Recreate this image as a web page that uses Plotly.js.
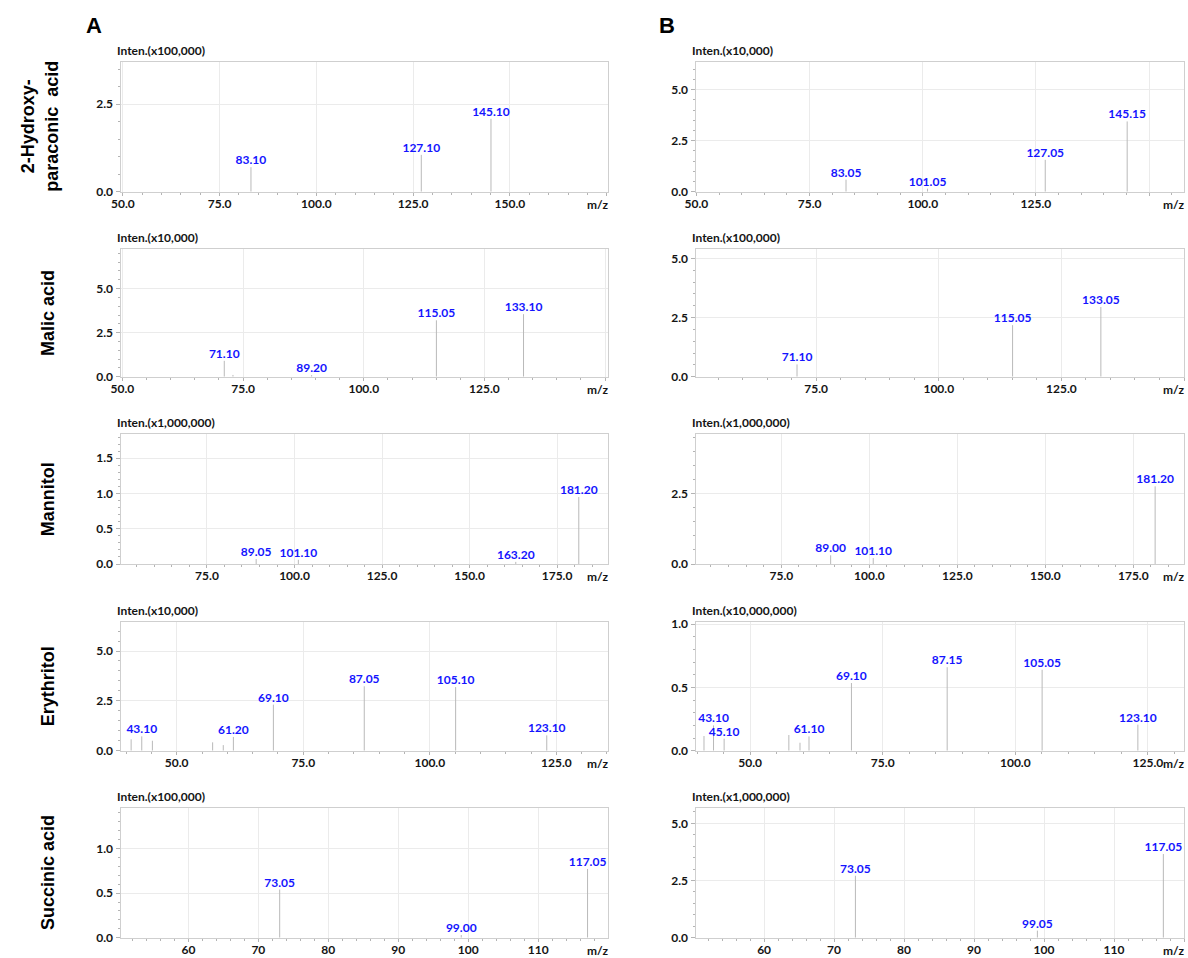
<!DOCTYPE html>
<html><head><meta charset="utf-8">
<script src="https://cdn.plot.ly/plotly-3.0.1.min.js"></script>
<style>html,body{margin:0;padding:0;background:#fff}#chart{width:1188px;height:958px}</style>
</head><body><div id="chart"></div>
<script>
// ---------- text ----------
const compounds = ['2-Hydroxy-<br>paraconic  acid', 'Malic acid', 'Mannitol', 'Erythritol', 'Succinic acid'];
const scaleA = ['Inten.(x100,000)', 'Inten.(x10,000)', 'Inten.(x1,000,000)', 'Inten.(x10,000)', 'Inten.(x100,000)'];
const scaleB = ['Inten.(x10,000)', 'Inten.(x100,000)', 'Inten.(x1,000,000)', 'Inten.(x10,000,000)', 'Inten.(x1,000,000)'];
const columnLetters = ['A', 'B'];

// ---------- peaks (m/z, relative intensity in the panel's unit, label) ----------
const hydA_mz  = [83.10, 127.10, 145.10];
const hydA_int = [0.70, 1.05, 2.08];
const hydA_lab = ['83.10', '127.10', '145.10'];

const hydB_mz  = [83.05, 101.05, 127.05, 145.15];
const hydB_int = [0.59, 0.15, 1.56, 3.44];
const hydB_lab = ['83.05', '101.05', '127.05', '145.15'];

const malA_mz  = [71.10, 72.9, 89.20, 115.05, 133.10];
const malA_int = [0.90, 0.10, 0.09, 3.20, 3.55];
const malA_lab = ['71.10', '', '89.20', '115.05', '133.10'];

const malB_mz  = [71.10, 115.05, 133.05];
const malB_int = [0.52, 2.18, 2.95];
const malB_lab = ['71.10', '115.05', '133.05'];

const manA_mz  = [89.05, 101.10, 163.20, 181.20];
const manA_int = [0.07, 0.06, 0.03, 0.95];
const manA_lab = ['89.05', '101.10', '163.20', '181.20'];

const manB_mz  = [89.00, 101.10, 181.20];
const manB_int = [0.31, 0.21, 2.76];
const manB_lab = ['89.00', '101.10', '181.20'];

const eryA_mz  = [41.0, 43.10, 45.2, 57.1, 59.2, 61.20, 69.10, 87.05, 105.10, 123.10];
const eryA_int = [0.57, 0.72, 0.50, 0.42, 0.28, 0.69, 2.31, 3.23, 3.19, 0.77];
const eryA_lab = ['', '43.10', '', '', '', '61.20', '69.10', '87.05', '105.10', '123.10'];

const eryB_mz  = [41.3, 43.10, 45.10, 57.3, 59.4, 61.10, 69.10, 87.15, 105.05, 123.10];
const eryB_int = [0.116, 0.20, 0.095, 0.124, 0.063, 0.113, 0.535, 0.66, 0.64, 0.206];
const eryB_lab = ['', '43.10', '45.10', '', '', '61.10', '69.10', '87.15', '105.05', '123.10'];

const sucA_mz  = [73.05, 99.00, 117.05];
const sucA_int = [0.54, 0.03, 0.77];
const sucA_lab = ['73.05', '99.00', '117.05'];

const sucB_mz  = [73.05, 99.05, 117.05];
const sucB_int = [2.71, 0.31, 3.66];
const sucB_lab = ['73.05', '99.05', '117.05'];

// ---------- x tick values ----------
const xt25a = [50, 75, 100, 125, 150, 175];
const xt25b = [50, 75, 100, 125, 150];
const xt25c = [75, 100, 125, 150, 175];
const xt25d = [50, 75, 100, 125];
const xt10  = [60, 70, 80, 90, 100, 110, 120];

// ---------- layout geometry (pixels) ----------
const W = 1188, H = 958;
const colL = [120.5, 695.5], colR = [607.5, 1184];
const rowT = [62, 249.3, 434.3, 621.7, 808.3], rowB = [191.7, 376.7, 564, 750.7, 937.7];

const panels = [
  {r:0,c:0,mz:hydA_mz,it:hydA_int,lab:hydA_lab,xr:[49.4,175.2],yr:[0,3.7],xt:xt25a,hide:175,ym:2.5,xm:5,d:1},
  {r:0,c:1,mz:hydB_mz,it:hydB_int,lab:hydB_lab,xr:[49.8,157.7],yr:[0,6.35],xt:xt25b,hide:150,ym:2.5,xm:5,d:1},
  {r:1,c:0,mz:malA_mz,it:malA_int,lab:malA_lab,xr:[49.6,150.5],yr:[0,7.23],xt:xt25b,hide:150,ym:2.5,xm:5,d:1},
  {r:1,c:1,mz:malB_mz,it:malB_int,lab:malB_lab,xr:[50.4,150.0],yr:[0,5.39],xt:xt25b,hide:150,ym:2.5,xm:5,d:1},
  {r:2,c:0,mz:manA_mz,it:manA_int,lab:manA_lab,xr:[50.3,189.4],yr:[0,1.84],xt:xt25c,hide:null,ym:0.5,xm:5,d:1},
  {r:2,c:1,mz:manB_mz,it:manB_int,lab:manB_lab,xr:[50.6,189.4],yr:[0,4.61],xt:xt25c,hide:null,ym:2.5,xm:5,d:1},
  {r:3,c:0,mz:eryA_mz,it:eryA_int,lab:eryA_lab,xr:[38.9,135.1],yr:[0,6.47],xt:xt25d,hide:null,ym:2.5,xm:5,d:1},
  {r:3,c:1,mz:eryB_mz,it:eryB_int,lab:eryB_lab,xr:[39.7,131.8],yr:[0,1.02],xt:xt25d,hide:null,ym:0.5,xm:5,d:1},
  {r:4,c:0,mz:sucA_mz,it:sucA_int,lab:sucA_lab,xr:[50.3,119.9],yr:[0,1.45],xt:xt10,hide:120,ym:0.5,xm:2,d:0},
  {r:4,c:1,mz:sucB_mz,it:sucB_int,lab:sucB_lab,xr:[50.2,120.0],yr:[0,5.66],xt:xt10,hide:120,ym:2.5,xm:2,d:0}
];

const TICKFONT = {family:'Lato, Open Sans, sans-serif', size:12, color:'#141414', weight:'bold'};
const LABFONT = {family:'Lato, Open Sans, sans-serif', size:12, color:'#1414ff', weight:'bold'};
const FRAME = '#cfcfcf', GRID = '#ebebeb', TICKC = '#b4b4b4', PEAK = '#b9b9b9';

const px = v => v / W, py = v => 1 - v / H;
const traces = [], layout = {
  width: W, height: H, margin:{l:0,r:0,t:0,b:0}, showlegend:false,
  paper_bgcolor:'#fff', plot_bgcolor:'#fff', annotations:[]
};

panels.forEach((p, i) => {
  const n = i + 1, xa = 'x' + (n === 1 ? '' : n), ya = 'y' + (n === 1 ? '' : n);
  const lx = [], ly = [];
  p.mz.forEach((m, k) => { lx.push(m, m, null); ly.push(0, p.it[k], null); });
  traces.push({type:'scatter', mode:'lines', x:lx, y:ly, xaxis:xa, yaxis:ya,
    line:{color:PEAK, width:1}, hoverinfo:'skip'});
  traces.push({type:'scatter', mode:'text', x:p.mz, y:p.it, text:p.lab, xaxis:xa, yaxis:ya,
    textposition:'top center', textfont:LABFONT, hoverinfo:'skip', cliponaxis:false});

  const xdom = [px(colL[p.c]), px(colR[p.c])];
  const ydom = [py(rowB[p.r]), py(rowT[p.r])];
  layout['xaxis' + (n === 1 ? '' : n)] = {
    domain:xdom, range:p.xr, anchor:ya, tickmode:'array', tickvals:p.xt,
    ticktext:p.xt.map(v => v === p.hide ? '' : v.toFixed(p.d)),
    showgrid:true, gridcolor:GRID, gridwidth:1, zeroline:false,
    showline:true, linecolor:FRAME, linewidth:1, mirror:true,
    ticks:'outside', ticklen:3, tickcolor:TICKC, tickfont:TICKFONT, ticklabelstandoff:-2,
    minor:{tickmode:'linear', tick0:0, dtick:p.xm, ticks:'outside', ticklen:2, tickcolor:TICKC, showgrid:false},
    fixedrange:true
  };
  layout['yaxis' + (n === 1 ? '' : n)] = {
    domain:ydom, range:p.yr, anchor:xa, tickmode:'linear', tick0:0, dtick:p.ym, tickformat:'.1f',
    showgrid:true, gridcolor:GRID, gridwidth:1, zeroline:false,
    showline:true, linecolor:FRAME, linewidth:1, mirror:true,
    ticks:'outside', ticklen:4, tickcolor:TICKC, tickfont:TICKFONT,
    minor:{tickmode:'linear', tick0:0, dtick:p.ym / 5, ticks:'outside', ticklen:2, tickcolor:TICKC, showgrid:false},
    fixedrange:true
  };
  layout.annotations.push({xref:'paper', yref:'paper', x:px(colL[p.c] - 6), y:py(rowT[p.r] - 2),
    xanchor:'left', yanchor:'bottom', showarrow:false,
    text:(p.c === 0 ? scaleA : scaleB)[p.r], font:{family:'Lato, sans-serif', size:12, color:'#141414', weight:'bold'}});
  layout.annotations.push({xref:'paper', yref:'paper', x:px(colR[p.c] + 2), y:py(rowB[p.r] + 12.5),
    xanchor:'right', yanchor:'middle', showarrow:false, text:'m/z', font:TICKFONT});
});

compounds.forEach((t, r) => {
  layout.annotations.push({xref:'paper', yref:'paper', x:px(r === 0 ? 40 : 48),
    y:py((rowT[r] + rowB[r]) / 2), xanchor:'center', yanchor:'middle', textangle:-90, showarrow:false,
    text:t, font:{family:'Liberation Sans, Arial, sans-serif', size:18, color:'#000', weight:'bold'}});
});
[93.5, 667].forEach((x, c) => {
  layout.annotations.push({xref:'paper', yref:'paper', x:px(x), y:py(25.5), xanchor:'center', yanchor:'middle',
    showarrow:false, text:columnLetters[c], font:{family:'Liberation Sans, Arial, sans-serif', size:22, color:'#000', weight:'bold'}});
});

Plotly.newPlot('chart', traces, layout, {staticPlot:true, displayModeBar:false});
</script></body></html>
